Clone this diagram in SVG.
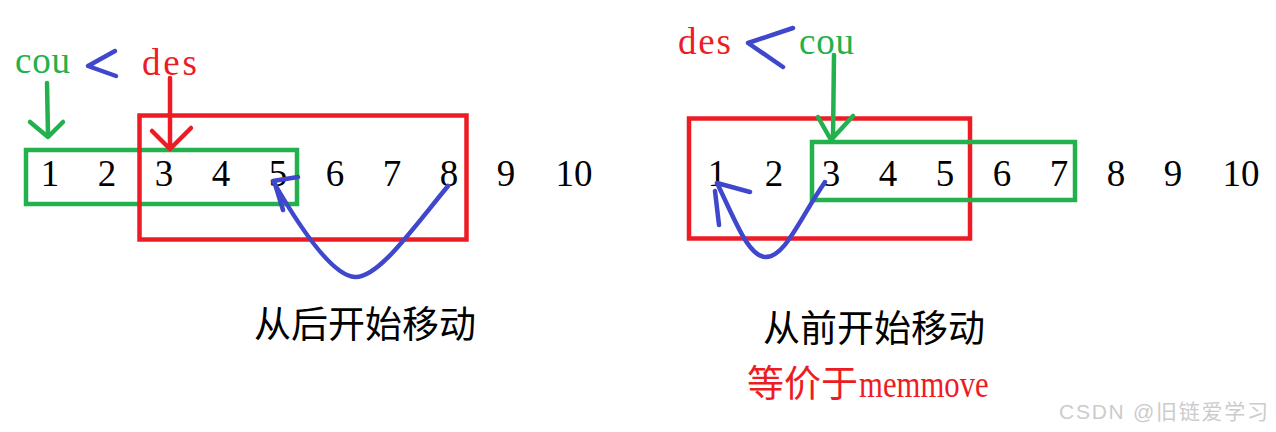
<svg xmlns="http://www.w3.org/2000/svg" width="1276" height="432" viewBox="0 0 1276 432">
<style>
.num{font-family:"Liberation Serif",serif;font-size:37px;fill:#000;text-anchor:middle}
.lbl{font-family:"Liberation Serif",serif;font-size:37px}
.cn{font-family:"Liberation Serif","Noto Sans CJK SC",sans-serif;font-size:37px}
.g{stroke:#22b14c;fill:none;stroke-width:4.5;stroke-linecap:round;stroke-linejoin:round}
.r{stroke:#ed1c24;fill:none;stroke-width:4.5;stroke-linecap:round;stroke-linejoin:round}
.b{stroke:#3f48cc;fill:none;stroke-width:4.5;stroke-linecap:round;stroke-linejoin:round}
.box{stroke-linecap:butt;stroke-linejoin:miter}
</style>
<rect width="1276" height="432" fill="#fff"/>
<g id="left-numbers">
<text class="num" x="50" y="186">1</text>
<text class="num" x="107" y="186">2</text>
<text class="num" x="164" y="186">3</text>
<text class="num" x="221" y="186">4</text>
<text class="num" x="278" y="186">5</text>
<text class="num" x="335" y="186">6</text>
<text class="num" x="392" y="186">7</text>
<text class="num" x="449" y="186">8</text>
<text class="num" x="506" y="186">9</text>
<text class="num" x="574" y="186">10</text>
</g>
<g id="left-green-box"><rect class="g box" x="26" y="150" width="271" height="54"/></g>
<g id="left-red-box"><rect class="r box" x="139.5" y="115.5" width="327" height="124"/></g>
<g id="left-cou"><text class="lbl" x="15" y="73" fill="#22b14c" textLength="55">cou</text></g>
<g id="left-des"><text class="lbl" x="142" y="75" fill="#ed1c24" textLength="55">des</text></g>
<g id="right-numbers">
<text class="num" x="717" y="186">1</text>
<text class="num" x="774" y="186">2</text>
<text class="num" x="831" y="186">3</text>
<text class="num" x="888" y="186">4</text>
<text class="num" x="945" y="186">5</text>
<text class="num" x="1002" y="186">6</text>
<text class="num" x="1059" y="186">7</text>
<text class="num" x="1116" y="186">8</text>
<text class="num" x="1173" y="186">9</text>
<text class="num" x="1241" y="186">10</text>
</g>
<g id="right-red-box"><rect class="r box" x="689" y="118.5" width="281" height="120"/></g>
<g id="right-green-box"><rect class="g box" x="812" y="142" width="263" height="58"/></g>
<g id="right-des"><text class="lbl" x="678" y="54" fill="#ed1c24" textLength="53">des</text></g>
<g id="right-cou"><text class="lbl" x="799" y="54" fill="#22b14c" textLength="55">cou</text></g>
<g id="captions">
<text class="cn" x="365" y="338" text-anchor="middle" fill="#000">从后开始移动</text>
<text class="cn" x="874" y="342" text-anchor="middle" fill="#000">从前开始移动</text>
<text class="cn" x="747" y="397" fill="#ed1c24">等价于</text>
<text transform="translate(859,397) scale(0.83,1)" x="0" y="0" font-family="Liberation Serif,serif" font-size="37" fill="#ed1c24">memmove</text>
</g>
<g id="connectors">
<path class="g" d="M47,83 L48,136 M30,122 L48,137 L63,122"/>
<path class="r" d="M170,78 L170,148 M152,131 L170,149 L191,128"/>
<path class="b" d="M115,51 L88,66 L116,76"/>
<path class="b" d="M448,186 C410,232 378,278 355,277 C332,276 300,228 273,181 M273,181 L298,177 M275,184 L283,210"/>
<path class="g" d="M834,55 L833,138 M818,117 L831,140 L853,116"/>
<path class="b" d="M793,28 L748,43 L783,67"/>
<path class="b" d="M825,182 C800,218 785,258 765,257 C748,256 735,220 717,183 M717,183 L750,192 M715,191 L719,225"/>
</g>
<g id="watermark"><text x="1059" y="419" font-family="Liberation Sans,sans-serif" font-size="21" fill="#cccccc" textLength="209">CSDN @<tspan font-family="Noto Sans CJK SC,sans-serif">旧链爱学习</tspan></text></g>
</svg>
